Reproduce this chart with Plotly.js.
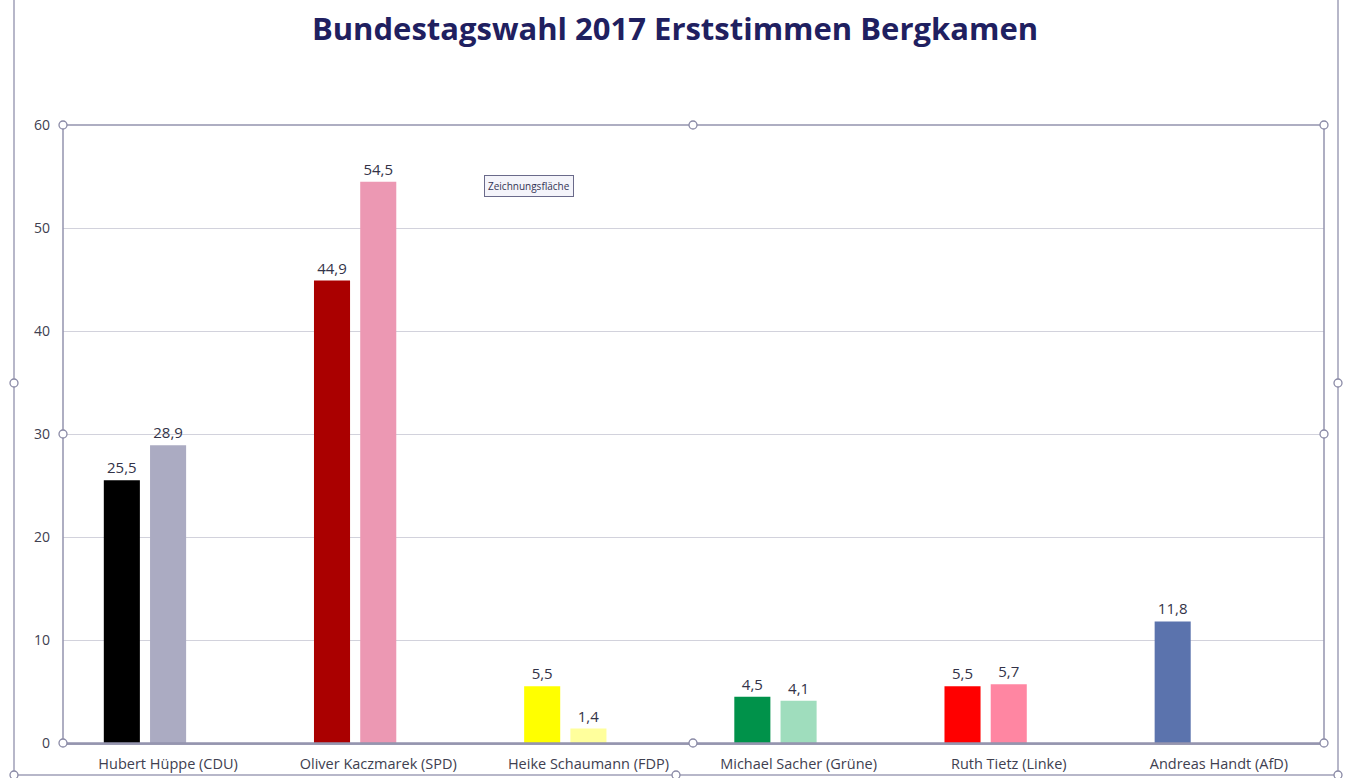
<!DOCTYPE html>
<html>
<head>
<meta charset="utf-8">
<script src="https://cdn.plot.ly/plotly-3.0.1.min.js"></script>
<style>html,body{margin:0;padding:0;background:#fff;}#chart{width:1350px;height:778px;}</style>
</head>
<body>
<div id="chart"></div>
<script>
const categories = ["Hubert Hüppe (CDU)", "Oliver Kaczmarek (SPD)", "Heike Schaumann (FDP)", "Michael Sacher (Grüne)", "Ruth Tietz (Linke)", "Andreas Handt (AfD)"];
const series2017 = [25.5, 44.9, 5.5, 4.5, 5.5, 11.8];
const series2013 = [28.9, 54.5, 1.4, 4.1, 5.7, null];
const seriesEmpty = [null, null, null, null, null, null];
const colors2017 = ["#000000", "#AA0000", "#FFFF00", "#00924A", "#FF0000", "#5B73AD"];
const colors2013 = ["#ABABC2", "#EC98B3", "#FFFF9C", "#9FDDBD", "#FF86A2", "#CCCCDD"];

const labelFont = {family: "Open Sans, sans-serif", size: 15, color: "#333348"};

const traces = [
  {type: "bar", x: categories, y: series2017, marker: {color: colors2017}, name: "2017",
   texttemplate: "%{y:.1f}", textposition: "outside", textfont: labelFont, cliponaxis: false, hoverinfo: "x+y"},
  {type: "bar", x: categories, y: series2013, marker: {color: colors2013}, name: "2013",
   texttemplate: "%{y:.1f}", textposition: "outside", textfont: labelFont, cliponaxis: false, hoverinfo: "x+y"},
  {type: "bar", x: categories, y: seriesEmpty, marker: {color: "#cccccc"}, name: "", hoverinfo: "skip"}
];

const W = 1261, H = 618;
function px(x){ return (x - 63) / W; }
function py(y){ return (743 - y) / H; }
const handleLine = {color: "#8A8AA6", width: 1.3};
function handle(x, y){
  return {type: "circle", xref: "paper", yref: "paper", xsizemode: "pixel", ysizemode: "pixel",
    xanchor: px(x), yanchor: py(y), x0: -4, x1: 4, y0: -4, y1: 4,
    line: handleLine, fillcolor: "#ffffff", layer: "above"};
}
const shapes = [
  {type: "rect", xref: "paper", yref: "paper", x0: px(14), x1: px(1338), y0: py(775), y1: py(-10),
   line: {color: "#A0A0B8", width: 1.5}, fillcolor: "rgba(0,0,0,0)", layer: "below"},
  {type: "rect", xref: "paper", yref: "paper", x0: 0, x1: 1, y0: 0, y1: 1,
   line: {color: "#9494AE", width: 1.5}, fillcolor: "rgba(0,0,0,0)", layer: "above"},
  handle(63,125), handle(693,125), handle(1324,125),
  handle(63,434), handle(1324,434),
  handle(63,743), handle(693,743), handle(1324,743),
  handle(14,383), handle(1338,383), handle(676,775), handle(14,775), handle(1338,775)
];

const layout = {
  width: 1350, height: 778,
  margin: {l: 63, r: 26, t: 125, b: 35, pad: 0},
  paper_bgcolor: "#ffffff", plot_bgcolor: "#ffffff",
  separators: ",.",
  showlegend: false,
  barmode: "group", bargap: 0.34, bargroupgap: 0.22,
  title: {text: "<b>Bundestagswahl 2017 Erststimmen Bergkamen</b>", x: 0.5, xref: "container", xanchor: "center",
          y: 0.962, yref: "container", yanchor: "middle",
          font: {family: "Open Sans, sans-serif", size: 31, color: "#1F2060"}},
  xaxis: {type: "category", showgrid: false, showline: true, linecolor: "#9A9AB2", linewidth: 1.5,
          ticks: "", ticklabelstandoff: 7,
          tickfont: {family: "Open Sans, sans-serif", size: 14.5, color: "#404050"}, fixedrange: true},
  yaxis: {range: [0, 60], dtick: 10, tick0: 0, showgrid: true, gridcolor: "#D2D2DC", gridwidth: 1,
          zeroline: false, showline: false, ticks: "", ticklabelstandoff: 12,
          tickfont: {family: "Open Sans, sans-serif", size: 14, color: "#404050"}, fixedrange: true},
  shapes: shapes,
  annotations: [
    {xref: "paper", yref: "paper", x: px(529), y: py(186), xanchor: "center", yanchor: "middle",
     text: "Zeichnungsfläche", showarrow: false,
     font: {family: "Open Sans, sans-serif", size: 10, color: "#333355"},
     bgcolor: "#F4F4FA", bordercolor: "#6A6A8A", borderwidth: 1, borderpad: 3}
  ]
};

Plotly.newPlot("chart", traces, layout, {displayModeBar: false, staticPlot: true});
</script>
</body>
</html>
